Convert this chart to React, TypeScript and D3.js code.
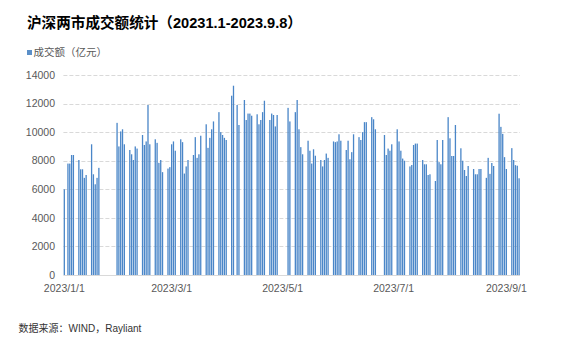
import React from "react";
import * as d3 from "d3";

// ---- data ----
const tradingDates: string[] = [
  "2023-01-01",
  "2023-01-03", "2023-01-04", "2023-01-05", "2023-01-06",
  "2023-01-09", "2023-01-10", "2023-01-11", "2023-01-12", "2023-01-13",
  "2023-01-16", "2023-01-17", "2023-01-18", "2023-01-19", "2023-01-20",
  "2023-01-30", "2023-01-31", "2023-02-01", "2023-02-02", "2023-02-03",
  "2023-02-06", "2023-02-07", "2023-02-08", "2023-02-09", "2023-02-10",
  "2023-02-13", "2023-02-14", "2023-02-15", "2023-02-16", "2023-02-17",
  "2023-02-20", "2023-02-21", "2023-02-22", "2023-02-23", "2023-02-24",
  "2023-02-27", "2023-02-28", "2023-03-01", "2023-03-02", "2023-03-03",
  "2023-03-06", "2023-03-07", "2023-03-08", "2023-03-09", "2023-03-10",
  "2023-03-13", "2023-03-14", "2023-03-15", "2023-03-16", "2023-03-17",
  "2023-03-20", "2023-03-21", "2023-03-22", "2023-03-23", "2023-03-24",
  "2023-03-27", "2023-03-28", "2023-03-29", "2023-03-30", "2023-03-31",
  "2023-04-03", "2023-04-04", "2023-04-06", "2023-04-07",
  "2023-04-10", "2023-04-11", "2023-04-12", "2023-04-13", "2023-04-14",
  "2023-04-17", "2023-04-18", "2023-04-19", "2023-04-20", "2023-04-21",
  "2023-04-24", "2023-04-25", "2023-04-26", "2023-04-27", "2023-04-28",
  "2023-05-04", "2023-05-05",
  "2023-05-08", "2023-05-09", "2023-05-10", "2023-05-11", "2023-05-12",
  "2023-05-15", "2023-05-16", "2023-05-17", "2023-05-18", "2023-05-19",
  "2023-05-22", "2023-05-23", "2023-05-24", "2023-05-25", "2023-05-26",
  "2023-05-29", "2023-05-30", "2023-05-31", "2023-06-01", "2023-06-02",
  "2023-06-05", "2023-06-06", "2023-06-07", "2023-06-08", "2023-06-09",
  "2023-06-12", "2023-06-13", "2023-06-14", "2023-06-15", "2023-06-16",
  "2023-06-19", "2023-06-20", "2023-06-21",
  "2023-06-26", "2023-06-27", "2023-06-28", "2023-06-29", "2023-06-30",
  "2023-07-03", "2023-07-04", "2023-07-05", "2023-07-06", "2023-07-07",
  "2023-07-10", "2023-07-11", "2023-07-12", "2023-07-13", "2023-07-14",
  "2023-07-17", "2023-07-18", "2023-07-19", "2023-07-20", "2023-07-21",
  "2023-07-24", "2023-07-25", "2023-07-26", "2023-07-27", "2023-07-28",
  "2023-07-31", "2023-08-01", "2023-08-02", "2023-08-03", "2023-08-04",
  "2023-08-07", "2023-08-08", "2023-08-09", "2023-08-10", "2023-08-11",
  "2023-08-14", "2023-08-15", "2023-08-16", "2023-08-17", "2023-08-18",
  "2023-08-21", "2023-08-22", "2023-08-23", "2023-08-24", "2023-08-25",
  "2023-08-28", "2023-08-29", "2023-08-30", "2023-08-31", "2023-09-01",
  "2023-09-04", "2023-09-05", "2023-09-06", "2023-09-07", "2023-09-08",
];

const turnover: number[] = [
  6000,
  7800, 7800, 8400, 8400,
  8050, 7400, 7400, 6800, 7000,
  9150, 7050, 6350, 6800, 7500,
  10650, 9000, 10050, 10200, 9150,
  8750, 8450, 8050, 9000, 8850,
  9800, 9100, 9350, 11900, 9150,
  9500, 9250, 7850, 8050, 7200,
  7450, 7550, 9150, 9350, 8700,
  9500, 9300, 7100, 7600, 8050,
  8400, 9650, 8200, 8450, 9750,
  10550, 8900, 9600, 10200, 10750,
  11400, 10000, 9800, 9600, 9450,
  12550, 13250, 11900, 10500,
  12250, 10850, 11300, 11300, 11150,
  11250, 10550, 10850, 11400, 12200,
  10850, 11300, 11200, 10400, 11200,
  11700, 10750,
  11400, 12250, 10200, 8950, 8450,
  9400, 8700, 7800, 8800, 8350,
  8050, 7600, 8050, 8500, 8200,
  9350, 9300, 9350, 9850, 9400,
  8750, 9400, 8100, 8600, 9850,
  9650, 9450, 10000, 10700, 10700,
  11050, 10900, 10200,
  9800, 8400, 8850, 8700, 9150,
  10200, 9350, 8700, 8150, 8000,
  7600, 7700, 9100, 9200, 9200,
  8050, 7750, 7750, 7000, 7050,
  6580, 9450, 7900, 7750, 9450,
  11050, 9570, 8330, 8330, 10500,
  8870, 8000, 7350, 6930, 7630,
  7420, 7050, 7050, 7420, 7420,
  6800, 8200, 7080, 7840, 7630,
  11290, 10370, 9880, 8250, 7420,
  8880, 8050, 7690, 7650, 6770,
];

const yTicks: number[] = [0, 2000, 4000, 6000, 8000, 10000, 12000, 14000];
const xTickDates: string[] = ["2023-01-01", "2023-03-01", "2023-05-01", "2023-07-01", "2023-09-01"];
const xTickLabels: string[] = ["2023/1/1", "2023/3/1", "2023/5/1", "2023/7/1", "2023/9/1"];

const titleText = "沪深两市成交额统计（20231.1-2023.9.8）";
const legendText = "成交额（亿元）";
const sourceText = "数据来源：WIND，Rayliant";

const FONT = "'Liberation Sans', Arial, 'Noto Sans CJK SC', sans-serif";
const BAR = "#4A86C8";

export default function App() {
  const W = 561;
  const H = 359;
  const left = 63.4;
  const right = 520;
  const top = 75;
  const bottom = 275;

  const parse = d3.utcParse("%Y-%m-%d");
  const start = parse("2023-01-01") as Date;
  const end = d3.utcDay.offset(parse("2023-09-08") as Date, 1);

  const x = d3.scaleUtc().domain([start, end]).range([left, right]);
  const y = d3.scaleLinear().domain([0, 14000]).range([bottom, top]);
  const center = (s: string) => x(d3.utcHour.offset(parse(s) as Date, 12));
  const barW = 1.3;

  return (
    <svg
      width={W}
      height={H}
      style={{ position: "absolute", left: 0, top: 0, background: "#fff" }}
      fontFamily={FONT}
    >
      <rect x={0} y={0} width={W} height={H} fill="#fff" />
      <text x={27} y={28} fontSize={14.6} fontWeight="bold" fill="#000">
        {titleText}
      </text>
      <rect x={27} y={50} width={5} height={5} fill="#5B8FC8" />
      <text x={33.5} y={55.5} fontSize={10.5} fill="#595959">
        {legendText}
      </text>

      {yTicks.map((t) => (
        <g key={t}>
          {t > 0 && (
            <line
              x1={left}
              x2={right}
              y1={Math.round(y(t)) + 0.5}
              y2={Math.round(y(t)) + 0.5}
              stroke="#d9d9d9"
              strokeWidth={1}
              strokeDasharray="4,2"
            />
          )}
          <text
            x={55}
            y={y(t)}
            dy="0.35em"
            textAnchor="end"
            fontSize={10.5}
            fill="#595959"
          >
            {t}
          </text>
        </g>
      ))}

      {tradingDates.map((d, i) => {
        const cx = center(d);
        return (
          <rect
            key={d}
            x={cx - barW / 2}
            y={y(turnover[i])}
            width={barW}
            height={bottom - y(turnover[i])}
            fill={BAR}
          />
        );
      })}

      <line x1={left} x2={right} y1={bottom + 0.5} y2={bottom + 0.5} stroke="#d9d9d9" />

      {xTickDates.map((d, i) => (
        <text
          key={d}
          x={center(d)}
          y={292}
          textAnchor="middle"
          fontSize={10.5}
          fill="#595959"
        >
          {xTickLabels[i]}
        </text>
      ))}

      <text x={18.5} y={332} fontSize={10} fill="#333">
        {sourceText}
      </text>
    </svg>
  );
}
